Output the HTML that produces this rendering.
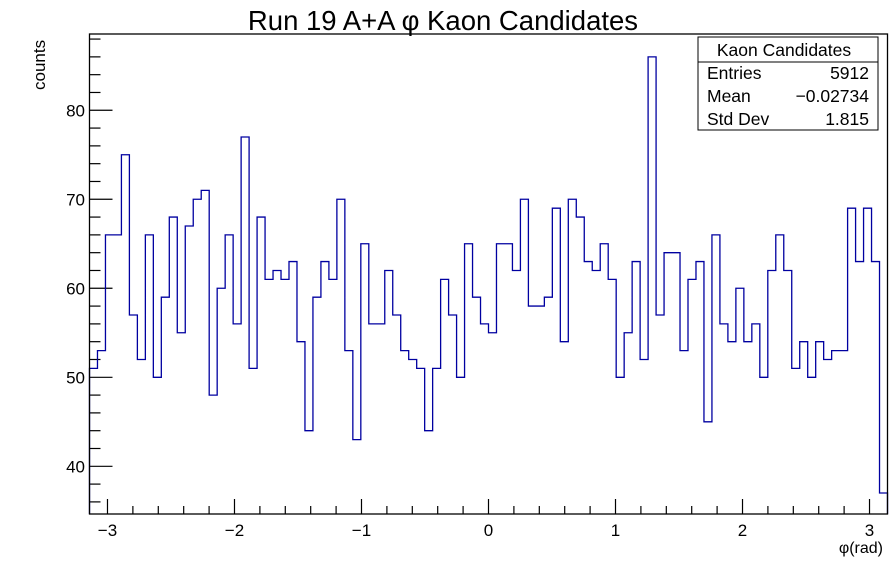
<!DOCTYPE html>
<html><head><meta charset="utf-8"><style>
html,body{margin:0;padding:0;background:#fff;}
svg{display:block;font-family:"Liberation Sans",sans-serif;}
</style></head><body>
<svg id="chart" width="896" height="572" viewBox="0 0 896 572" xmlns="http://www.w3.org/2000/svg">
<rect x="0" y="0" width="896" height="572" fill="#fff"/>
<text x="443" y="30" font-size="27.5" text-anchor="middle" fill="#000">Run 19 A+A  φ Kaon Candidates</text>
<text transform="translate(45,90) rotate(-90)" font-size="17" fill="#000">counts</text>
<text x="883" y="553" font-size="16" text-anchor="end" fill="#000">φ(rad)</text>
<g id="ticks"></g>
<path id="hist" fill="none" stroke="#0000a0" stroke-width="1.3"/>
<rect x="89.5" y="34" width="798" height="480" fill="none" stroke="#000" stroke-width="1.3"/>
<g>
<rect x="698" y="37" width="180" height="93" fill="#fff" stroke="#000" stroke-width="1"/>
<line x1="698" y1="62" x2="878" y2="62" stroke="#000" stroke-width="1"/>
<text x="784" y="56" font-size="17.5" text-anchor="middle">Kaon Candidates</text>
<text x="707" y="79" font-size="17.5">Entries</text>
<text x="869" y="79" font-size="17.5" text-anchor="end">5912</text>
<text x="707" y="102" font-size="17.5">Mean</text>
<text x="869" y="102" font-size="17.5" text-anchor="end">−0.02734</text>
<text x="707" y="125" font-size="17.5">Std Dev</text>
<text x="869" y="125" font-size="17.5" text-anchor="end">1.815</text>
</g>
</svg>
<script>
const binCounts = [51,53,66,66,75,57,52,66,50,59,68,55,67,70,71,48,60,66,56,77,
51,68,61,62,61,63,54,44,59,63,61,70,53,43,65,56,56,62,57,53,
52,51,44,51,61,57,50,65,59,56,55,65,65,62,70,58,58,59,69,54,
70,68,63,62,65,61,50,55,63,52,86,57,64,64,53,61,63,45,66,56,
54,60,54,56,50,62,66,62,51,54,50,54,52,53,53,69,63,69,63,37];
const xTickLabels = [-3,-2,-1,0,1,2,3];
const yTickLabels = [40,50,60,70,80];
const xMin = -Math.PI, xMax = Math.PI, yMin = 34.64, yMax = 88.57;
const L = 89.5, R = 887.5, T = 34, B = 514;
function xs(v){return L + (v - xMin) / (xMax - xMin) * (R - L);}
function ys(v){return B - (v - yMin) / (yMax - yMin) * (B - T);}
const NS = "http://www.w3.org/2000/svg";
const n = binCounts.length, bw = (xMax - xMin) / n;
let d = "M" + xs(xMin) + "," + B;
for (let i = 0; i < n; i++) {
  const y = ys(binCounts[i]);
  d += " L" + xs(xMin + i * bw) + "," + y + " L" + xs(xMin + (i + 1) * bw) + "," + y;
}
d += " L" + xs(xMax) + "," + B;
document.getElementById("hist").setAttribute("d", d);
const g = document.getElementById("ticks");
function line(x1,y1,x2,y2){const l=document.createElementNS(NS,"line");l.setAttribute("x1",x1);l.setAttribute("y1",y1);l.setAttribute("x2",x2);l.setAttribute("y2",y2);l.setAttribute("stroke","#000");l.setAttribute("stroke-width","1.2");g.appendChild(l);return l;}
for (let v = -3.2; v <= 3.21; v += 0.2) {
  const vv = Math.round(v * 10) / 10;
  if (vv < xMin || vv > xMax) continue;
  const major = Math.abs(vv - Math.round(vv)) < 1e-6;
  const t = line(xs(vv), B, xs(vv), B - (major ? 15 : 8));
  
  
}
for (let v = 36; v <= 88; v += 2) {
  const major = v % 10 === 0;
  const t = line(L, ys(v), L + (major ? 23 : 11), ys(v));
  
  
}
xTickLabels.forEach(v => {
  const t = document.createElementNS(NS, "text");
  
  
  t.setAttribute("x", xs(v)); t.setAttribute("y", B + 22);
  t.setAttribute("font-size", "17"); t.setAttribute("text-anchor", "middle");
  t.textContent = v < 0 ? "−" + Math.abs(v) : String(v);
  g.appendChild(t);
});
yTickLabels.forEach(v => {
  const t = document.createElementNS(NS, "text");
  
  
  t.setAttribute("x", 85); t.setAttribute("y", ys(v) + 6);
  t.setAttribute("font-size", "17"); t.setAttribute("text-anchor", "end");
  t.textContent = String(v);
  g.appendChild(t);
});
</script>
</body></html>
